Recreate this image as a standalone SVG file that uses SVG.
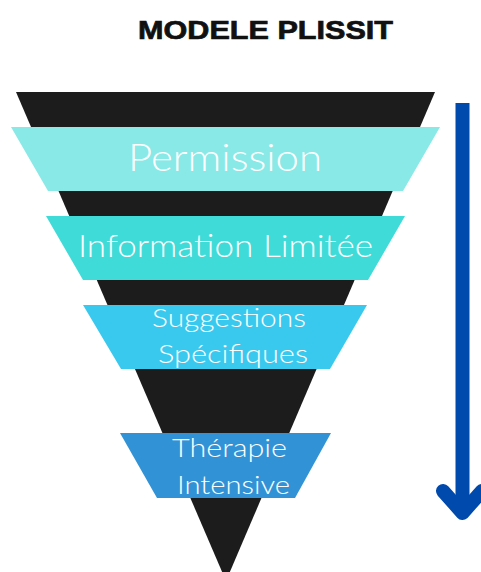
<svg xmlns="http://www.w3.org/2000/svg" width="481" height="572" viewBox="0 0 481 572">
  <style>
    .funnel { fill: #1c1c1c; }
    .band-text { fill: #ffffff; font-family: Lato, "Noto Sans", "DejaVu Sans", sans-serif; font-weight: 300; text-anchor: middle; }
    .title { fill: #111111; stroke: #111111; stroke-width: 0.7; font-family: "Liberation Sans", Arial, sans-serif; font-weight: bold; font-size: 26px; }
    .arrow { fill: none; stroke: #004aad; stroke-width: 14; }
  </style>

  <rect width="481" height="572" fill="#ffffff"/>

  <text class="title" x="138" y="39" textLength="255" lengthAdjust="spacingAndGlyphs">MODELE PLISSIT</text>

  <!-- inverted triangle behind the levels -->
  <polygon class="funnel" points="16,92 435,92 226,581"/>

  <g id="permission">
    <polygon points="11,127 440,127 403,191 48,191" fill="#88e9e7"/>
    <text class="band-text" x="225" y="171" font-size="38" textLength="194" lengthAdjust="spacingAndGlyphs">Permission</text>
  </g>

  <g id="information-limitee">
    <polygon points="46,216 405,216 368,280 83,280" fill="#3fdbd8"/>
    <text class="band-text" x="225.5" y="257" font-size="32" textLength="295" lengthAdjust="spacingAndGlyphs">Information Limitée</text>
  </g>

  <g id="suggestions-specifiques">
    <polygon points="83,305 367,305 330,369 121,369" fill="#39c9ef"/>
    <text class="band-text" x="229" y="327" font-size="26" textLength="154" lengthAdjust="spacingAndGlyphs">Suggestions</text>
    <text class="band-text" x="233" y="363" font-size="26" textLength="150" lengthAdjust="spacingAndGlyphs">Spécifiques</text>
  </g>

  <g id="therapie-intensive">
    <polygon points="120,433 331,433 295,498 157,498" fill="#3193d6"/>
    <text class="band-text" x="229.5" y="457" font-size="26" textLength="115" lengthAdjust="spacingAndGlyphs">Thérapie</text>
    <text class="band-text" x="233.5" y="494" font-size="26" textLength="113" lengthAdjust="spacingAndGlyphs">Intensive</text>
  </g>

  <g id="connectors">
    <line class="arrow" x1="462.5" y1="103" x2="462.5" y2="512"/>
    <polyline class="arrow" points="443,491 462.5,513 482,491" stroke-linecap="round" stroke-linejoin="round"/>
  </g>
</svg>
